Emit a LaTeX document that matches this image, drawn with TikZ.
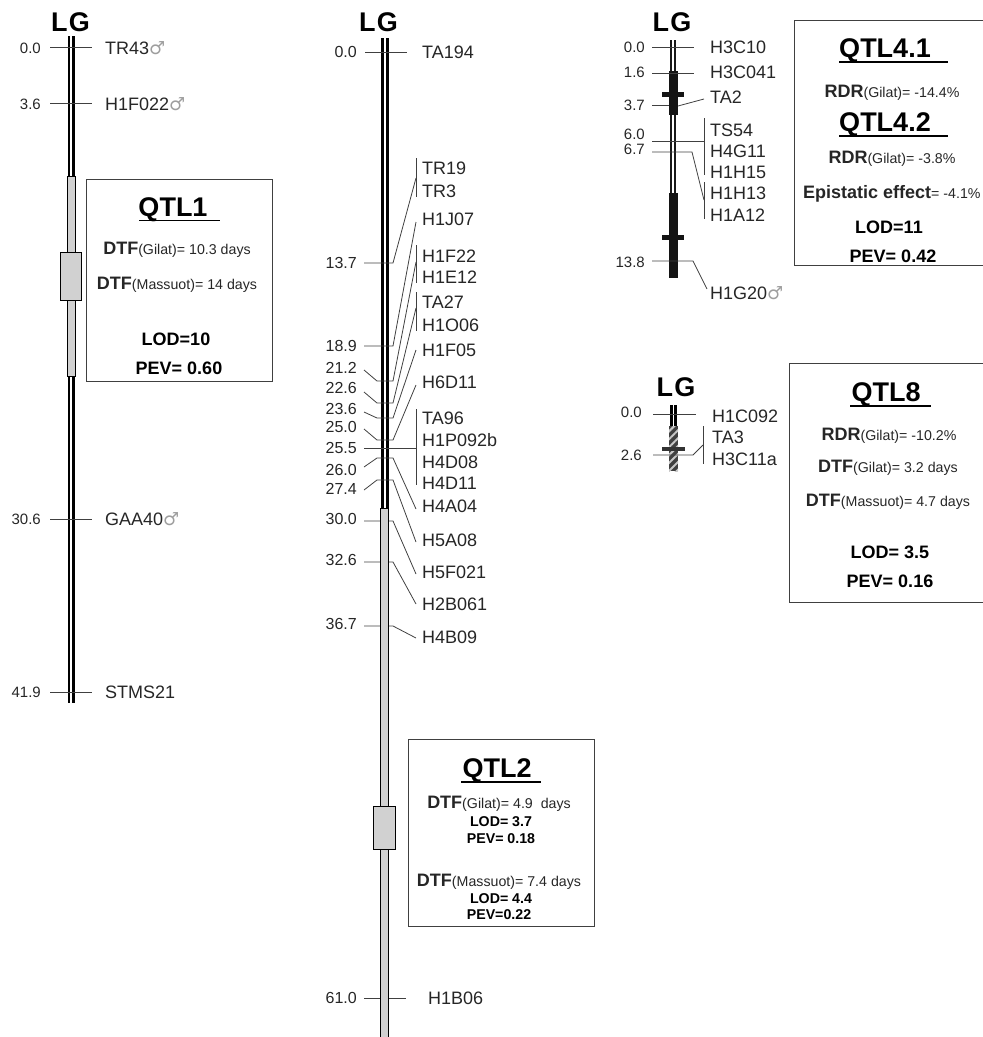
\documentclass[tikz,border=0pt]{standalone}
\usepackage{fontspec}
\setmainfont{Liberation Sans}
\newfontfamily\symfont{DejaVu Sans}
\usetikzlibrary{patterns.meta}
\newcommand{\mrk}{{\symfont\textcolor{black!38}{♂}}}
\newcommand{\bgb}[1]{{\fontsize{18}{20}\selectfont\bfseries #1}}

\begin{document}
\begin{tikzpicture}[x=1pt, y=-1pt,
    lg/.style={font=\fontsize{27}{29}\selectfont\bfseries, inner sep=0pt, text height=19.5pt, text depth=0pt},
    locus/.style={font=\fontsize{18}{20}\selectfont, inner sep=0pt, anchor=west, text height=13pt, text depth=0pt, black!85},
    dist/.style={font=\fontsize{15}{18}\selectfont, inner sep=0pt, anchor=east, text height=11pt, text depth=0pt, black!85},
    distb/.style={dist, font=\fontsize{16}{18}\selectfont},
    tick/.style={line width=0.8pt, black!75},
    bar/.style={line width=2.7pt, black},
    thinbar/.style={line width=2pt, black!90},
    seg/.style={draw=black, line width=0.9pt, fill=black!18, inner sep=0pt},
    solid/.style={fill=black!92, inner sep=0pt},
    hatch/.style={inner sep=0pt, preaction={fill=black!75}, pattern={Lines[angle=45, distance=5.6pt, line width=2pt]}, pattern color=black!22},
    frame/.style={line width=0.7pt, black!75},
    title/.style={font=\fontsize{27}{29}\selectfont\bfseries, inner sep=0pt, text height=19.5pt, text depth=0pt},
    uline/.style={line width=1.1pt, black},
    qline/.style={font=\fontsize{14.2}{16}\selectfont, inner sep=0pt, text height=12.9pt, text depth=0pt, black!85},
    qbold/.style={font=\fontsize{18}{20}\selectfont\bfseries, inner sep=0pt, text height=12.9pt, text depth=0pt},
    qsmall/.style={font=\fontsize{14.2}{16}\selectfont\bfseries, inner sep=0pt, text height=10pt, text depth=0pt}]
  \useasboundingbox (0,0) rectangle (983,1037);
  % ---------------- map 1 ----------------
  \node[lg] (lgA) at (70.5,21.5) {L\kern1.5pt G};
  \coordinate (topA) at (71.2,36); \coordinate (botA) at (71.2,703);
  \draw[bar] ([xshift=-2.3pt]topA) -- ([xshift=-2.3pt]botA);
  \draw[bar] ([xshift=2.3pt]topA) -- ([xshift=2.3pt]botA);
  \foreach \nm/\dd/\txt/\yy in {TR43/0.0/TR43\mrk/47.5, H1F022/3.6/H1F022\mrk/103.5, GAA40/30.6/GAA40\mrk/519, STMS21/41.9/STMS21/692} {
     \node[locus] (\nm) at (105,\yy) {\txt};
     \node[dist] (d\nm) at (41,\yy) {\dd};
     \draw[tick, shorten <=9pt, shorten >=13pt] (d\nm) -- (\nm);
  }
  \node[seg, minimum width=7.5pt, minimum height=200pt] (segA) at (71.2,276) {};
  \node[seg, minimum width=21pt, minimum height=48pt] (qtlA) at (71,276) {};
  % ---------------- map 2 ----------------
  \node[lg] (lgB) at (378.5,22) {L\kern1.5pt G};
  \coordinate (topB) at (385,38); \coordinate (botB) at (385,510);
  \draw[bar] ([xshift=-2.3pt]topB) -- ([xshift=-2.3pt]botB);
  \draw[bar] ([xshift=2.3pt]topB) -- ([xshift=2.3pt]botB);
  \foreach \nm/\txt/\yy in {TA194/TA194/52, TR19/TR19/168, TR3/TR3/191, H1J07/H1J07/219, H1F22/H1F22/256, H1E12/H1E12/277, TA27/TA27/302, H1O06/H1O06/325, H1F05/H1F05/350, H6D11/H6D11/382, TA96/TA96/418, H1P092b/H1P092b/440, H4D08/H4D08/462, H4D11/H4D11/483, H4A04/H4A04/506, H5A08/H5A08/540, H5F021/H5F021/572, H2B061/H2B061/604, H4B09/H4B09/637} {
     \node[locus] (\nm) at (422,\yy) {\txt};
  }
  \node[locus] (H1B06) at (428,998) {H1B06};
  % brackets beside the marker names
  \foreach \nm/\ya/\yb in {brA/158/197, brB/245/283, brC/292/331, brD/409/485} {
     \coordinate (\nm t) at (416,\ya); \coordinate (\nm b) at (416,\yb);
     \draw[tick] (\nm t) -- (\nm b);
  }
  % elbow ticks: label y, start y, knee y, end y
  \foreach \nm/\dd/\ya/\yb/\yc/\ee in {a/13.7/263/263/263/178, b/18.9/346/346/346/222, c/21.2/368/370/381/262, d/22.6/388/392/403/308, e/23.6/409/412/418/350, f/25.0/427/429/440/385, g/26.0/470/467/458/509, h/27.4/489/490/480/542} {
     \node[distb] (d\nm) at (357,\ya) {\dd};
     \coordinate (s\nm) at (364,\yb); \coordinate (k\nm) at (377,\yc);
     \coordinate (m\nm) at (393,\yc); \coordinate (e\nm) at (416,\ee);
     \draw[tick] (s\nm) -- (k\nm) -- (m\nm) -- (e\nm);
  }
  \node[distb] (d255) at (357,448) {25.5};
  \coordinate (s255) at (364,448); \coordinate (e255) at (416,448);
  \draw[tick] (s255) -- (e255);
  \node[distb] (d000) at (357,52) {0.0};
  \draw[tick, shorten <=8pt, shorten >=15pt] (d000) -- (TA194);
  \foreach \nm/\dd/\ya/\ee in {p/30.0/521/574, q/32.6/562/604, r/36.7/626/638} {
     \node[distb] (d\nm) at (357,\ya-2) {\dd};
     \coordinate (s\nm) at (364,\ya); \coordinate (m\nm) at (393,\ya); \coordinate (e\nm) at (416,\ee);
     \draw[tick] (s\nm) -- (m\nm) -- (e\nm);
  }
  \node[distb] (d610) at (357,998) {61.0};
  \draw[tick, shorten <=7pt, shorten >=22pt] (d610) -- (H1B06);
  \node[seg, minimum width=7.6pt, anchor=north, minimum height=532pt] (segB) at (384.5,508) {};
  \node[seg, minimum width=22pt, minimum height=43pt] (qtlB) at (384.5,827.5) {};
  % ---------------- map 4 ----------------
  \node[lg] (lgC) at (672,22) {L\kern1.5pt G};
  \coordinate (topC) at (673.2,40); \coordinate (botC) at (673.2,195);
  \draw[thinbar] ([xshift=-2pt]topC) -- ([xshift=-2pt]botC);
  \draw[thinbar] ([xshift=2pt]topC) -- ([xshift=2pt]botC);
  \node[solid, minimum width=9pt, minimum height=44.3pt] (blkA) at (673.2,92.9) {};
  \node[solid, minimum width=9pt, minimum height=85pt] (blkB) at (673.2,235.5) {};
  \node[solid, minimum width=22.6pt, minimum height=5pt] (crsA) at (673,94) {};
  \node[solid, minimum width=22.6pt, minimum height=5pt] (crsB) at (673,237) {};
  \foreach \nm/\txt/\yy in {H3C10/H3C10/47, H3C041/H3C041/72, TA2/TA2/97, TS54/TS54/130, H4G11/H4G11/151, H1H15/H1H15/172, H1H13/H1H13/193, H1A12/H1A12/215, H1G20/H1G20\mrk/293} {
     \node[locus] (\nm) at (710,\yy) {\txt};
  }
  \foreach \nm/\dd/\ya in {t/0.0/47, u/1.6/72, v/3.7/105, w/6.0/134, x/6.7/149, y/13.8/262} {
     \node[dist] (d\nm) at (645,\ya) {\dd};
  }
  \coordinate (st) at (652,47); \coordinate (et) at (694,47); \draw[tick] (st) -- (et);
  \coordinate (su) at (652,73); \coordinate (eu) at (694,73); \draw[tick] (su) -- (eu);
  \coordinate (sv) at (652,105); \coordinate (kv) at (669,105); \draw[tick] (sv) -- (kv);
  \coordinate (mv) at (678,106); \coordinate (ev) at (704,99); \draw[tick] (mv) -- (ev);
  \coordinate (sw) at (652,141); \coordinate (ew) at (704,141); \draw[tick] (sw) -- (ew);
  \coordinate (sx) at (652,152); \coordinate (mx) at (692,152); \coordinate (ex) at (704,200); \draw[tick] (sx) -- (mx) -- (ex);
  \coordinate (sy) at (652,261); \coordinate (my) at (693,261); \coordinate (ey) at (707,289); \draw[tick] (sy) -- (my) -- (ey);
  \foreach \nm/\ya/\yb in {brE/118/175, brF/182/219} {
     \coordinate (\nm t) at (704,\ya); \coordinate (\nm b) at (704,\yb);
     \draw[tick] (\nm t) -- (\nm b);
  }
  % ---------------- map 8 ----------------
  \node[lg] (lgD) at (676,387) {L\kern1.5pt G};
  \coordinate (topD) at (673.7,405); \coordinate (botD) at (673.7,427);
  \draw[bar, line width=3pt] ([xshift=-2pt]topD) -- ([xshift=-2pt]botD);
  \draw[bar, line width=3pt] ([xshift=2pt]topD) -- ([xshift=2pt]botD);
  \node[hatch, minimum width=9pt, minimum height=45pt] (hatA) at (673.5,448.5) {};
  \node[solid, minimum width=23pt, minimum height=4pt, fill=black!80] (hatB) at (673.5,449) {};
  \node[locus] (H1C092) at (712,416) {H1C092};
  \node[locus] (TA3) at (712,437) {TA3};
  \node[locus] (H3C11a) at (712,459) {H3C11a};
  \node[dist] (d00h) at (642,412) {0.0};
  \node[dist] (d26h) at (642,455) {2.6};
  \coordinate (s00h) at (653,414); \coordinate (e00h) at (696,414); \draw[tick] (s00h) -- (e00h);
  \coordinate (s26h) at (653,455); \coordinate (m26h) at (693,455); \coordinate (e26h) at (703,445); \draw[tick] (s26h) -- (m26h) -- (e26h);
  \coordinate (brGt) at (703,426); \coordinate (brGb) at (703,464); \draw[tick] (brGt) -- (brGb);
  % ---------------- QTL1 box ----------------
  \node[draw=black!75, line width=0.7pt, inner sep=0pt, minimum width=186.5pt, minimum height=202pt] (boxA) at (179.2,280) {};
  \node[title] (tA) at (173,207) {QTL1};
  \draw[uline] (139,220.7) -- (219.5,220.7);
  \node[qline] (qA1) at (177,248) {\bgb{DTF}(Gilat)= 10.3 days};
  \node[qline] (qA2) at (177,283) {\bgb{DTF}(Massuot)= 14 days};
  \node[qbold] (qA3) at (176,339) {LOD=10};
  \node[qbold] (qA4) at (179,368) {PEV= 0.60};
  % ---------------- QTL2 box ----------------
  \node[draw=black!75, line width=0.7pt, inner sep=0pt, minimum width=186pt, minimum height=187pt] (boxB) at (501,832.5) {};
  \node[title] (tB) at (497,768) {QTL2};
  \draw[uline] (461,782) -- (541,782);
  \node[qline] (qB1) at (499,802) {\bgb{DTF}(Gilat)= 4.9\ \ days};
  \node[qsmall] (qB2) at (501,821) {LOD= 3.7};
  \node[qsmall] (qB3) at (501,838) {PEV= 0.18};
  \node[qline] (qB4) at (499,880) {\bgb{DTF}(Massuot)= 7.4 days};
  \node[qsmall] (qB5) at (501,898) {LOD= 4.4};
  \node[qsmall] (qB6) at (499,914) {PEV=0.22};
  % ---------------- QTL4 box, open at the page edge ----------------
  \draw[frame] (983,20) -- (794,20) -- (794,265) -- (983,265);
  \node[title] (tC) at (885,48) {QTL4.1};
  \draw[uline] (839,62) -- (948,62);
  \node[qline] (qC1) at (892,91) {\bgb{RDR}(Gilat)= -14.4\%};
  \node[title] (tC2) at (885,122) {QTL4.2};
  \draw[uline] (839,136) -- (948,136);
  \node[qline] (qC2) at (892,157) {\bgb{RDR}(Gilat)= -3.8\%};
  \node[qline, anchor=west] (qC3) at (803,192) {\bgb{Epistatic effect}= -4.1\%};
  \node[qbold] (qC4) at (889,227) {LOD=11};
  \node[qbold] (qC5) at (893,256) {PEV= 0.42};
  % ---------------- QTL8 box, open at the page edge ----------------
  \draw[frame] (983,363) -- (789,363) -- (789,602) -- (983,602);
  \node[title] (tD) at (886,392) {QTL8};
  \draw[uline] (850,406) -- (931,406);
  \node[qline] (qD1) at (889,434) {\bgb{RDR}(Gilat)= -10.2\%};
  \node[qline] (qD2) at (888,466) {\bgb{DTF}(Gilat)= 3.2 days};
  \node[qline] (qD3) at (888,500) {\bgb{DTF}(Massuot)= 4.7 days};
  \node[qbold] (qD4) at (890,552) {LOD= 3.5};
  \node[qbold] (qD5) at (890,581) {PEV= 0.16};
\end{tikzpicture}
\end{document}
